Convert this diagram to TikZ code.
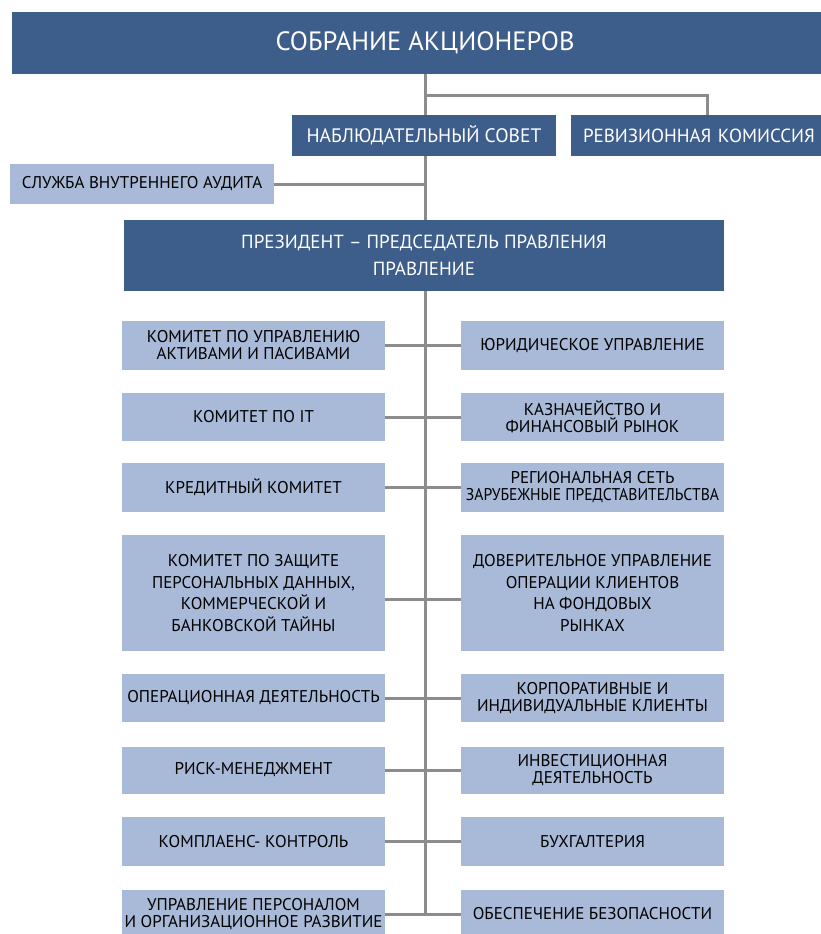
\documentclass[tikz,border=0pt]{standalone}
\usepackage{fontspec}
\setmainfont{PT Sans}
\newfontfamily\narrowf{PT Sans}[FakeStretch=0.92]
\definecolor{dkblue}{RGB}{61,93,138}
\definecolor{ltblue}{RGB}{169,186,216}
\definecolor{lgray}{RGB}{140,140,143}
\tikzset{
  dark/.style={fill=dkblue, text=white, inner sep=0pt, align=center, font=\fontsize{19.5}{21}\selectfont},
  light/.style={fill=ltblue, text=black, inner sep=0pt, align=center, minimum width=263pt, font=\fontsize{17}{17}\selectfont},
  conn/.style={draw=lgray, line width=3pt},
}
\begin{document}
\begin{tikzpicture}[x=1pt,y=-1pt]
\useasboundingbox (0,0) rectangle (821,934);
\coordinate (trunk) at (425,0);
\coordinate (j1) at (425,95);
\coordinate (y4) at (425,599);
% nodes
\node[dark, minimum width=826pt, minimum height=62pt, font=\fontsize{26.5}{30}\selectfont] (top) at (425,43) {СОБРАНИЕ АКЦИОНЕРОВ};
\node[dark, minimum width=264pt, minimum height=41pt] (nab) at (424,135.5) {НАБЛЮДАТЕЛЬНЫЙ СОВЕТ};
\node[dark, minimum width=272pt, minimum height=41pt, text width=248pt, align=left, font=\fontsize{19}{21}\selectfont] (rev) at (707,135.5) {РЕВИЗИОННАЯ КОМИССИЯ};
\node[light, minimum width=264pt, minimum height=40pt] (audit) at (142,184) {СЛУЖБА ВНУТРЕННЕГО АУДИТА};
\node[dark, minimum width=600pt, minimum height=71pt, font=\fontsize{19}{27}\selectfont] (pres) at (424,255.5) {ПРЕЗИДЕНТ – ПРЕДСЕДАТЕЛЬ ПРАВЛЕНИЯ\\ПРАВЛЕНИЕ};
% rows
\node[light, minimum height=49pt] (l1) at (253.5,345.5) {КОМИТЕТ ПО УПРАВЛЕНИЮ\\АКТИВАМИ И ПАСИВАМИ};
\node[light, minimum height=49pt] (r1) at (592.5,345.5) {ЮРИДИЧЕСКОЕ УПРАВЛЕНИЕ};
\node[light, minimum height=48pt] (l2) at (253.5,417) {КОМИТЕТ ПО IT};
\node[light, minimum height=48pt] (r2) at (592.5,417) {КАЗНАЧЕЙСТВО И\\ФИНАНСОВЫЙ РЫНОК};
\node[light, minimum height=49pt] (l3) at (253.5,487.5) {КРЕДИТНЫЙ КОМИТЕТ};
\node[light, minimum height=49pt] (r3) at (592.5,487.5) {РЕГИОНАЛЬНАЯ СЕТЬ\\{\narrowf ЗАРУБЕЖНЫЕ ПРЕДСТАВИТЕЛЬСТВА}};
\node[light, minimum height=116pt, font=\fontsize{17}{21.5}\selectfont] (l4) at (253.5,593) {КОМИТЕТ ПО ЗАЩИТЕ\\ПЕРСОНАЛЬНЫХ ДАННЫХ,\\КОММЕРЧЕСКОЙ И\\БАНКОВСКОЙ ТАЙНЫ};
\node[light, minimum height=116pt, font=\fontsize{17}{21.5}\selectfont] (r4) at (592.5,593) {ДОВЕРИТЕЛЬНОЕ УПРАВЛЕНИЕ\\ОПЕРАЦИИ КЛИЕНТОВ\\НА ФОНДОВЫХ\\РЫНКАХ};
\node[light, minimum height=48pt] (l5) at (253.5,698) {ОПЕРАЦИОННАЯ ДЕЯТЕЛЬНОСТЬ};
\node[light, minimum height=48pt] (r5) at (592.5,698) {КОРПОРАТИВНЫЕ И\\ИНДИВИДУАЛЬНЫЕ КЛИЕНТЫ};
\node[light, minimum height=47pt] (l6) at (253.5,770) {РИСК-МЕНЕДЖМЕНТ};
\node[light, minimum height=47pt] (r6) at (592.5,770) {ИНВЕСТИЦИОННАЯ\\ДЕЯТЕЛЬНОСТЬ};
\node[light, minimum height=49pt] (l7) at (253.5,841.5) {КОМПЛАЕНС- КОНТРОЛЬ};
\node[light, minimum height=49pt] (r7) at (592.5,841.5) {БУХГАЛТЕРИЯ};
\node[light, minimum height=48pt] (l8) at (253.5,914) {УПРАВЛЕНИЕ ПЕРСОНАЛОМ\\И ОРГАНИЗАЦИОННОЕ РАЗВИТИЕ};
\node[light, minimum height=48pt] (r8) at (592.5,914) {ОБЕСПЕЧЕНИЕ БЕЗОПАСНОСТИ};
% connectors
\draw[conn] (top.south) -- (nab.north -| trunk);
\draw[conn] (j1) -| (rev.north);
\draw[conn] (nab.south -| trunk) -- (pres.north -| trunk);
\draw[conn] (audit.east) -- (audit.east -| trunk);
\draw[conn] (pres.south -| trunk) -- (l8.east -| trunk);
\draw[conn] (l1.east) -- (r1.west);
\draw[conn] (l2.east) -- (r2.west);
\draw[conn] (l3.east) -- (r3.west);
\draw[conn] (l4.east |- y4) -- (r4.west |- y4);
\draw[conn] (l5.east) -- (r5.west);
\draw[conn] (l6.east) -- (r6.west);
\draw[conn] (l7.east) -- (r7.west);
\draw[conn] (l8.east) -- (r8.west);
\end{tikzpicture}
\end{document}
